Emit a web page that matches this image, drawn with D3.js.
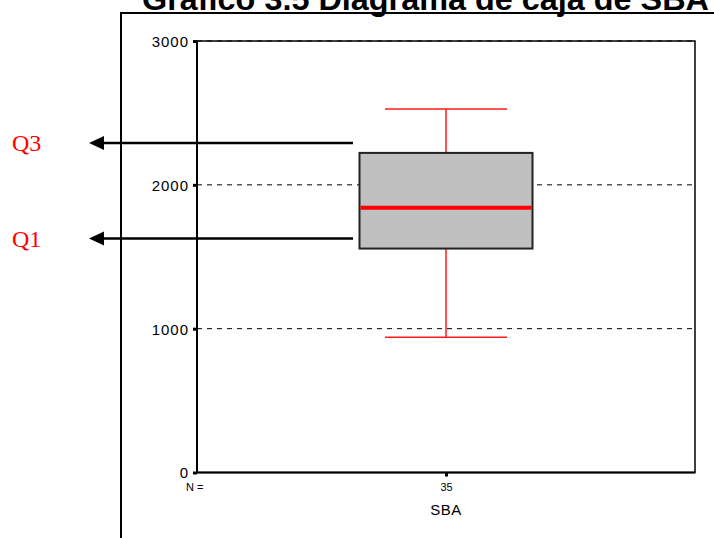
<!DOCTYPE html>
<html>
<head>
<meta charset="utf-8">
<script src="https://cdn.jsdelivr.net/npm/d3@7/dist/d3.min.js"></script>
<style>
  html, body { margin: 0; padding: 0; background: #fff; }
  svg { display: block; font-family: "Liberation Sans", Arial, sans-serif; }
</style>
</head>
<body>
<svg id="chart" width="714" height="538"></svg>
<script>
// ---- data ----
const categories = ["SBA"];
const counts = [35];
const whiskerLow = [940];
const q1 = [1557];
const median = [1840];
const q3 = [2222];
const whiskerHigh = [2528];
const yTicks = [0, 1000, 2000, 3000];
const title = "Gráfico 3.5 Diagrama de caja de SBA";
const annotations = ["Q3", "Q1"];

const svg = d3.select("#chart");
const M = { left: 197, right: 695, top: 41, bottom: 472.5 };

const y = d3.scaleLinear().domain([0, 3000]).range([M.bottom, M.top]);
const x = d3.scalePoint().domain(categories).range([M.left, M.right]).padding(0.5);

// outer frame (page)
svg.append("line").attr("x1", 121).attr("x2", 121).attr("y1", 13).attr("y2", 538)
  .attr("stroke", "#000").attr("stroke-width", 2);
svg.append("line").attr("x1", 120).attr("x2", 714).attr("y1", 13).attr("y2", 13)
  .attr("stroke", "#000").attr("stroke-width", 2);

// title (cut off at top)
svg.append("text").attr("x", 142).attr("y", 10)
  .style("font-family", "'Liberation Sans', Arial, sans-serif")
  .attr("font-size", 32).attr("font-weight", "bold")
  .attr("textLength", 567).attr("lengthAdjust", "spacingAndGlyphs")
  .text(title);

// gridlines
svg.append("g").selectAll("line").data(yTicks.filter(d => d > 0)).join("line")
  .attr("x1", M.left).attr("x2", M.right)
  .attr("y1", d => y(d)).attr("y2", d => y(d))
  .attr("stroke", "#000").attr("stroke-width", 1).attr("stroke-dasharray", "5,5");

// plot frame
svg.append("rect").attr("x", M.left).attr("y", M.top)
  .attr("width", M.right - M.left).attr("height", M.bottom - M.top)
  .attr("fill", "none").attr("stroke", "#000").attr("stroke-width", 1.5);
svg.append("line").attr("x1", M.left).attr("x2", M.left).attr("y1", M.top).attr("y2", M.bottom)
  .attr("stroke", "#000").attr("stroke-width", 2);
svg.append("line").attr("x1", M.left).attr("x2", M.right).attr("y1", M.bottom).attr("y2", M.bottom)
  .attr("stroke", "#000").attr("stroke-width", 2);

// y axis
const yAxis = svg.append("g").attr("transform", `translate(${M.left},0)`)
  .call(d3.axisLeft(y).tickValues(yTicks).tickSize(4).tickPadding(4).tickFormat(d3.format("d")));
yAxis.select(".domain").remove();
yAxis.selectAll(".tick line").attr("stroke", "#000").attr("stroke-width", 3);
yAxis.selectAll(".tick text")
  .style("font-family", "'Liberation Sans', Arial, sans-serif")
  .style("font-size", "15px").style("letter-spacing", "1px")
  .attr("fill", "#000").attr("dy", "0.36em");

// x axis
const xAxis = svg.append("g").attr("transform", `translate(0,${M.bottom})`)
  .call(d3.axisBottom(x).tickSize(4).tickFormat((d, i) => counts[i]));
xAxis.select(".domain").remove();
xAxis.selectAll(".tick line").attr("stroke", "#000").attr("stroke-width", 3);
xAxis.selectAll(".tick text")
  .style("font-family", "'Liberation Sans', Arial, sans-serif")
  .style("font-size", "11px")
  .attr("fill", "#000").attr("dy", 0).attr("y", 18.5);
svg.append("text").attr("x", 186).attr("y", M.bottom + 18.5)
  .style("font-size", "11px").text("N =");
svg.append("g").selectAll("text").data(categories).join("text")
  .attr("x", d => x(d)).attr("y", 515).attr("text-anchor", "middle")
  .style("font-size", "15px").style("letter-spacing", "0.5px").text(d => d);

// box plot
const bw = 173, cw = 122;
const g = svg.append("g");
categories.forEach((c, i) => {
  const cx = x(c);
  g.append("line").attr("x1", cx).attr("x2", cx)
    .attr("y1", y(whiskerHigh[i])).attr("y2", y(q3[i]))
    .attr("stroke", "#ff1a1a").attr("stroke-width", 1.5);
  g.append("line").attr("x1", cx).attr("x2", cx)
    .attr("y1", y(q1[i])).attr("y2", y(whiskerLow[i]))
    .attr("stroke", "#ff1a1a").attr("stroke-width", 1.5);
  [whiskerHigh[i], whiskerLow[i]].forEach(v => {
    g.append("line").attr("x1", cx - cw / 2).attr("x2", cx + cw / 2)
      .attr("y1", y(v)).attr("y2", y(v))
      .attr("stroke", "#ff1a1a").attr("stroke-width", 1.5);
  });
  g.append("rect").attr("x", cx - bw / 2).attr("y", y(q3[i]))
    .attr("width", bw).attr("height", y(q1[i]) - y(q3[i]))
    .attr("fill", "#c0c0c0").attr("stroke", "#222").attr("stroke-width", 2);
  g.append("line").attr("x1", cx - bw / 2 + 1).attr("x2", cx + bw / 2 - 1)
    .attr("y1", y(median[i])).attr("y2", y(median[i]))
    .attr("stroke", "#ff0000").attr("stroke-width", 4);
});

// annotation arrows
const annVals = [q3[0], q1[0]];
const ann = svg.append("g");
annVals.forEach((v, i) => {
  const yy = y(v) - 10;
  ann.append("line").attr("x1", 353).attr("x2", 102).attr("y1", yy).attr("y2", yy)
    .attr("stroke", "#000").attr("stroke-width", 2.5);
  ann.append("path").attr("d", `M89,${yy} L104,${yy - 7} L104,${yy + 7} Z`).attr("fill", "#000");
  ann.append("text").attr("x", 12).attr("y", yy + 8)
    .style("font-family", "'Liberation Serif', 'Times New Roman', serif")
    .style("font-size", "24px").attr("fill", "#ff0000").text(annotations[i]);
});
</script>
</body>
</html>
